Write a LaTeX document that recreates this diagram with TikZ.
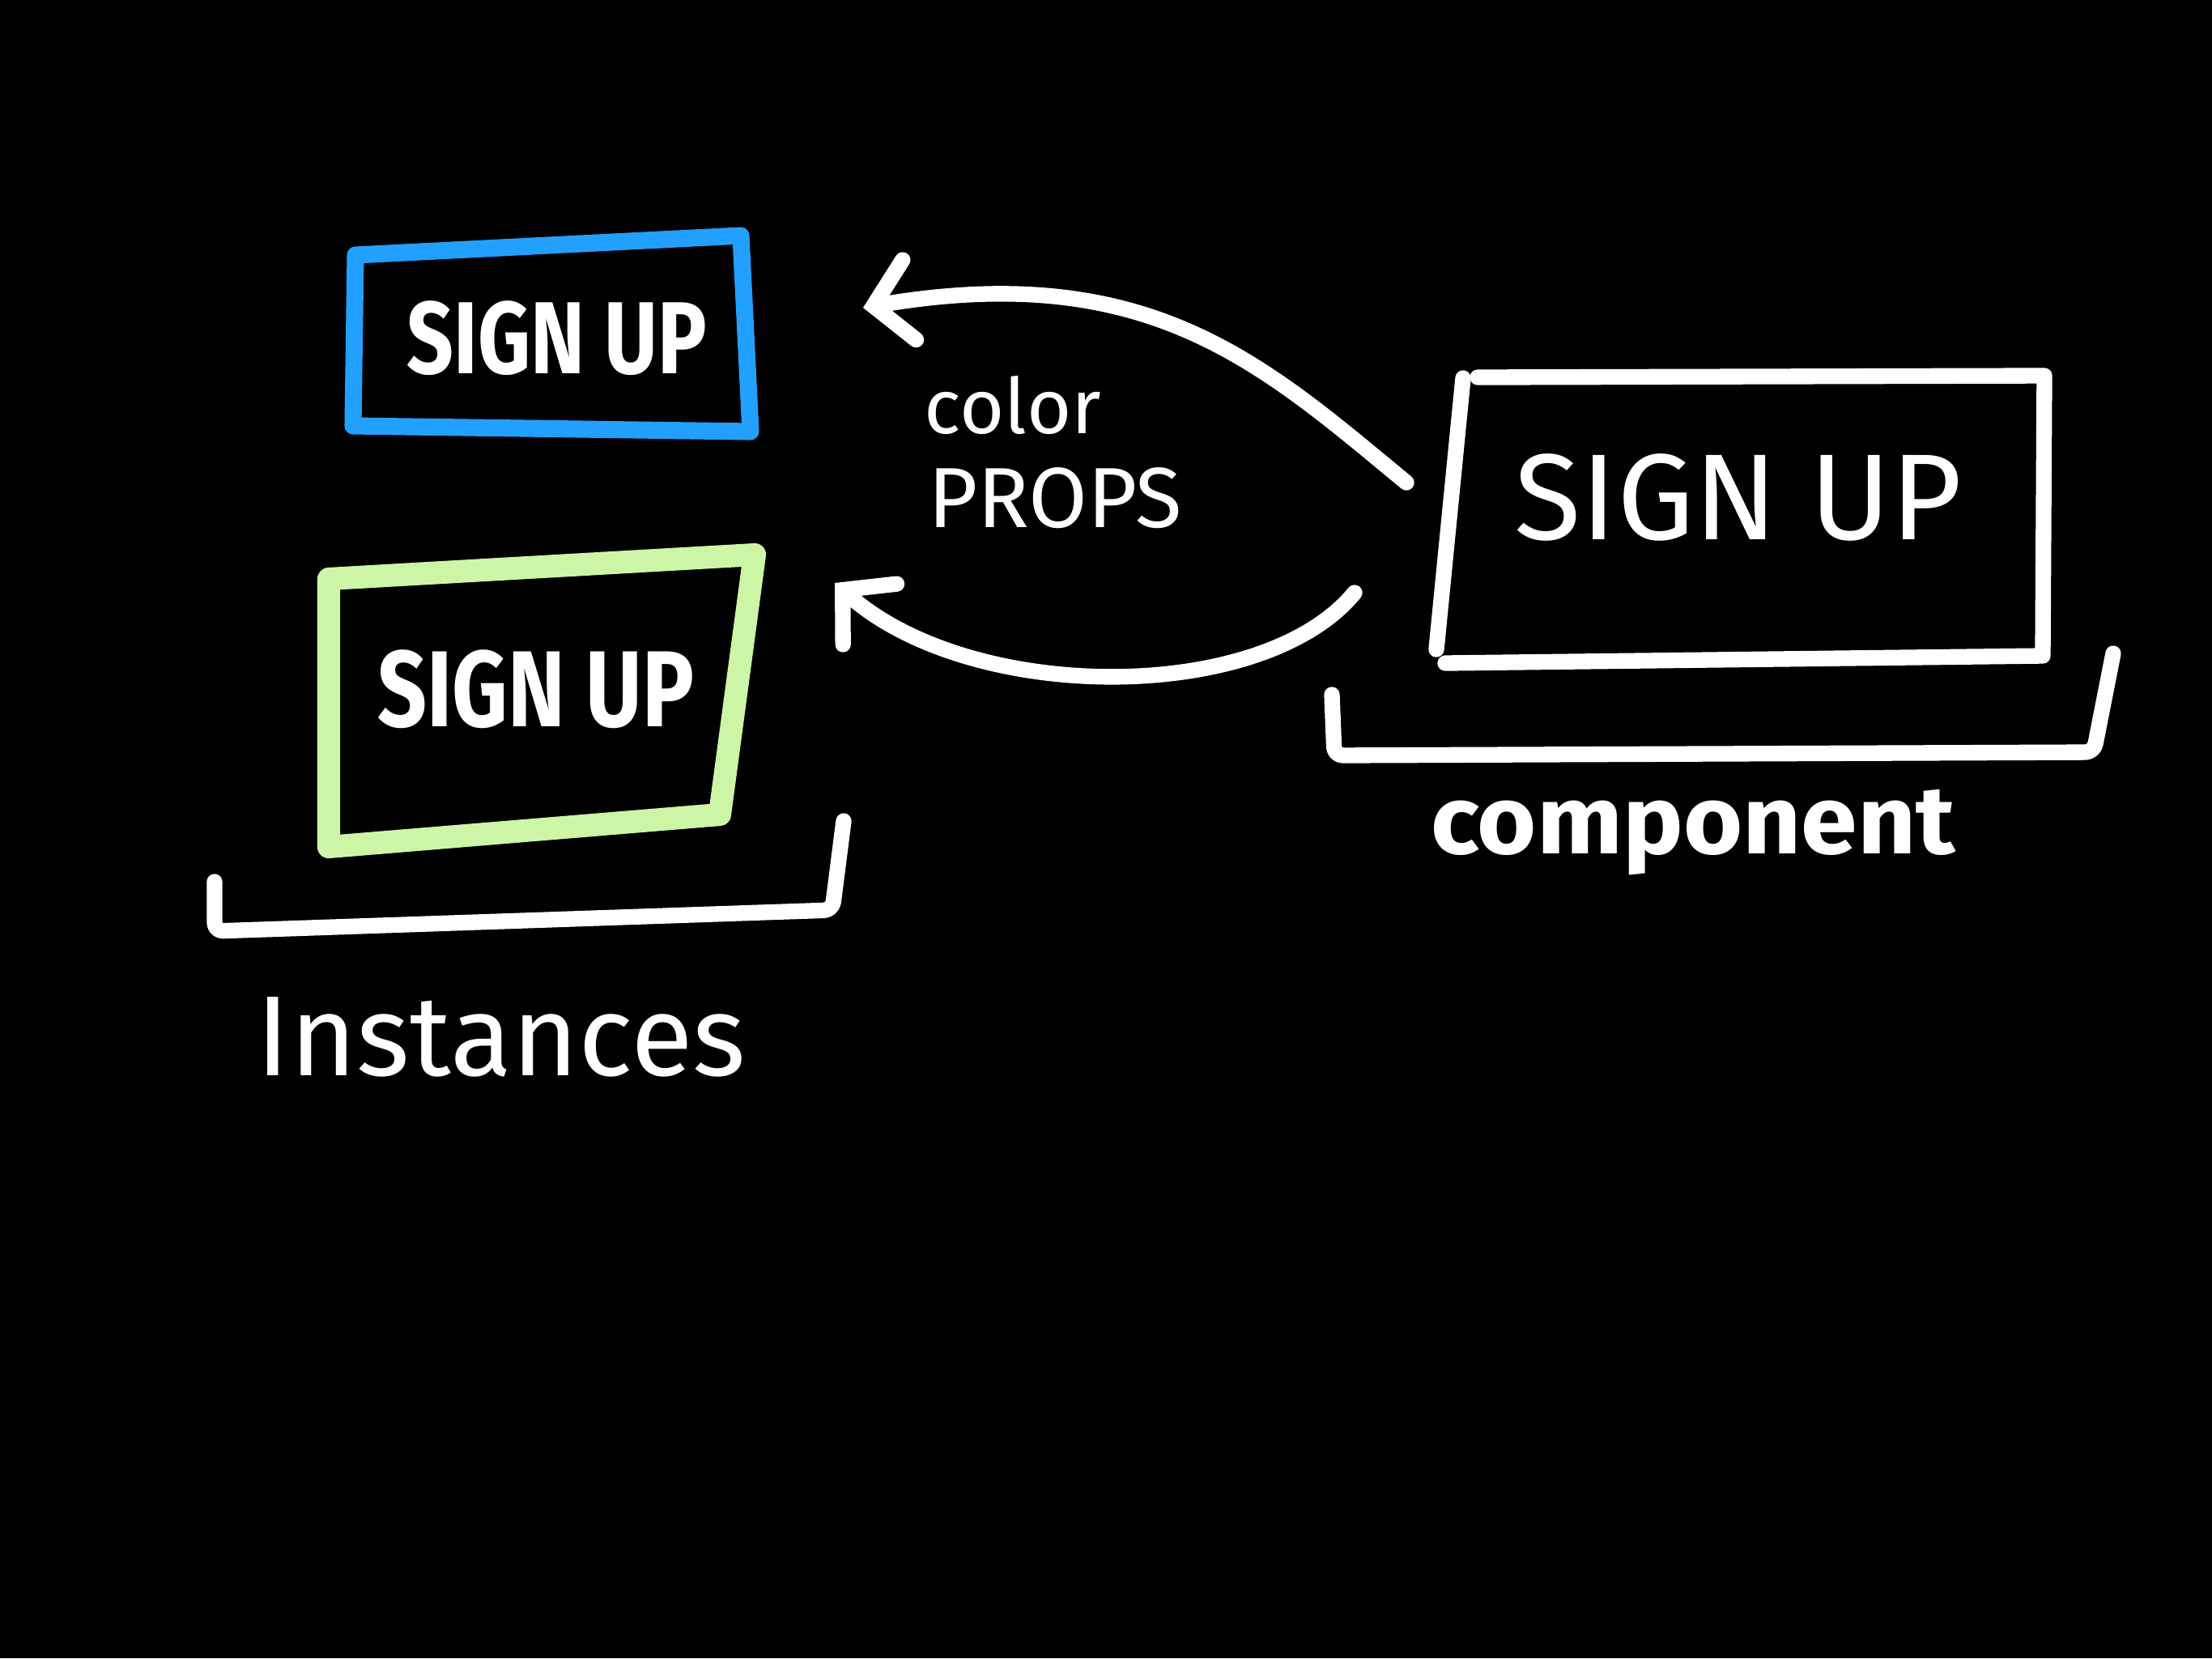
\documentclass[tikz,border=0pt]{standalone}
\usepackage{fontspec}
\setmainfont{Fira Sans}
\usetikzlibrary{arrows.meta}
\definecolor{signblue}{HTML}{22A0FF}
\definecolor{signgreen}{HTML}{CCF5A6}
\begin{document}
\begin{tikzpicture}
  \tikzstyle{chalk}=[white, line width=5.5pt, line cap=round, line join=round]
  \tikzstyle{handtext}=[text=white, inner sep=0pt]
  \tikzstyle{propsarrow}=[chalk, -{Straight Barb[length=4.5mm, width=10mm, line cap=round]}]
  \fill[black] (0,0) rectangle (27.32,-20.48);
  \useasboundingbox (0,0) rectangle (27.32,-20.48);

  % Boxes
  \draw[signblue, line width=6pt, line join=round]
    (4.39,-3.15) -- (9.15,-2.91) -- (9.27,-5.33) -- (4.36,-5.26) -- cycle;
  \draw[signgreen, line width=8pt, line join=round]
    (4.06,-7.15) -- (9.32,-6.85) -- (8.89,-10.06) -- (4.06,-10.46) -- cycle;
  \draw[chalk] (18.07,-4.67) -- (17.74,-8.02);
  \draw[chalk] (18.25,-4.66) -- (25.25,-4.64) -- (25.23,-8.10) -- (17.85,-8.19);

  % Brackets
  \draw[chalk, rounded corners=3pt] (16.45,-8.58) -- (16.48,-9.33) -- (25.86,-9.29) -- (26.10,-8.07);
  \draw[chalk, rounded corners=3pt] (2.65,-10.89) -- (2.65,-11.50) -- (10.28,-11.24) -- (10.42,-10.14);

  % Node definitions
  \node[handtext, font=\fontsize{36}{40}\selectfont\bfseries, xscale=0.8] (blue) at (6.88,-4.18) {SIGN UP};
  \node[handtext, font=\fontsize{38}{42}\selectfont\bfseries, xscale=0.8] (green) at (6.62,-8.51) {SIGN UP};
  \node[handtext, font=\fontsize{43}{48}\selectfont] (comp) at (21.47,-6.14) {SIGN UP};
  \node[handtext, font=\fontsize{34}{40}\selectfont\bfseries, xscale=1.05] (complabel) at (20.91,-10.28) {component};
  \node[handtext, font=\fontsize{40}{46}\selectfont] (instlabel) at (6.19,-12.81) {Instances};
  \node[handtext, font=\fontsize{27}{32}\selectfont] (color) at (12.51,-5.0) {color};
  \node[handtext, font=\fontsize{30}{34}\selectfont] (props) at (13.03,-6.15) {PROPS};

  % Arrow ends
  \coordinate (from1) at (17.37,-5.96);
  \coordinate (to1) at (10.66,-3.80);
  \coordinate (from2) at (16.73,-7.32);
  \coordinate (to2) at (10.31,-7.20);

  % Arrows
  \draw[propsarrow] (from1) .. controls (15.6,-4.5) and (14.2,-3.2) .. (to1);
  \draw[propsarrow] (from2) .. controls (15.6,-8.7) and (12.0,-8.7) .. (to2);
\end{tikzpicture}
\end{document}
